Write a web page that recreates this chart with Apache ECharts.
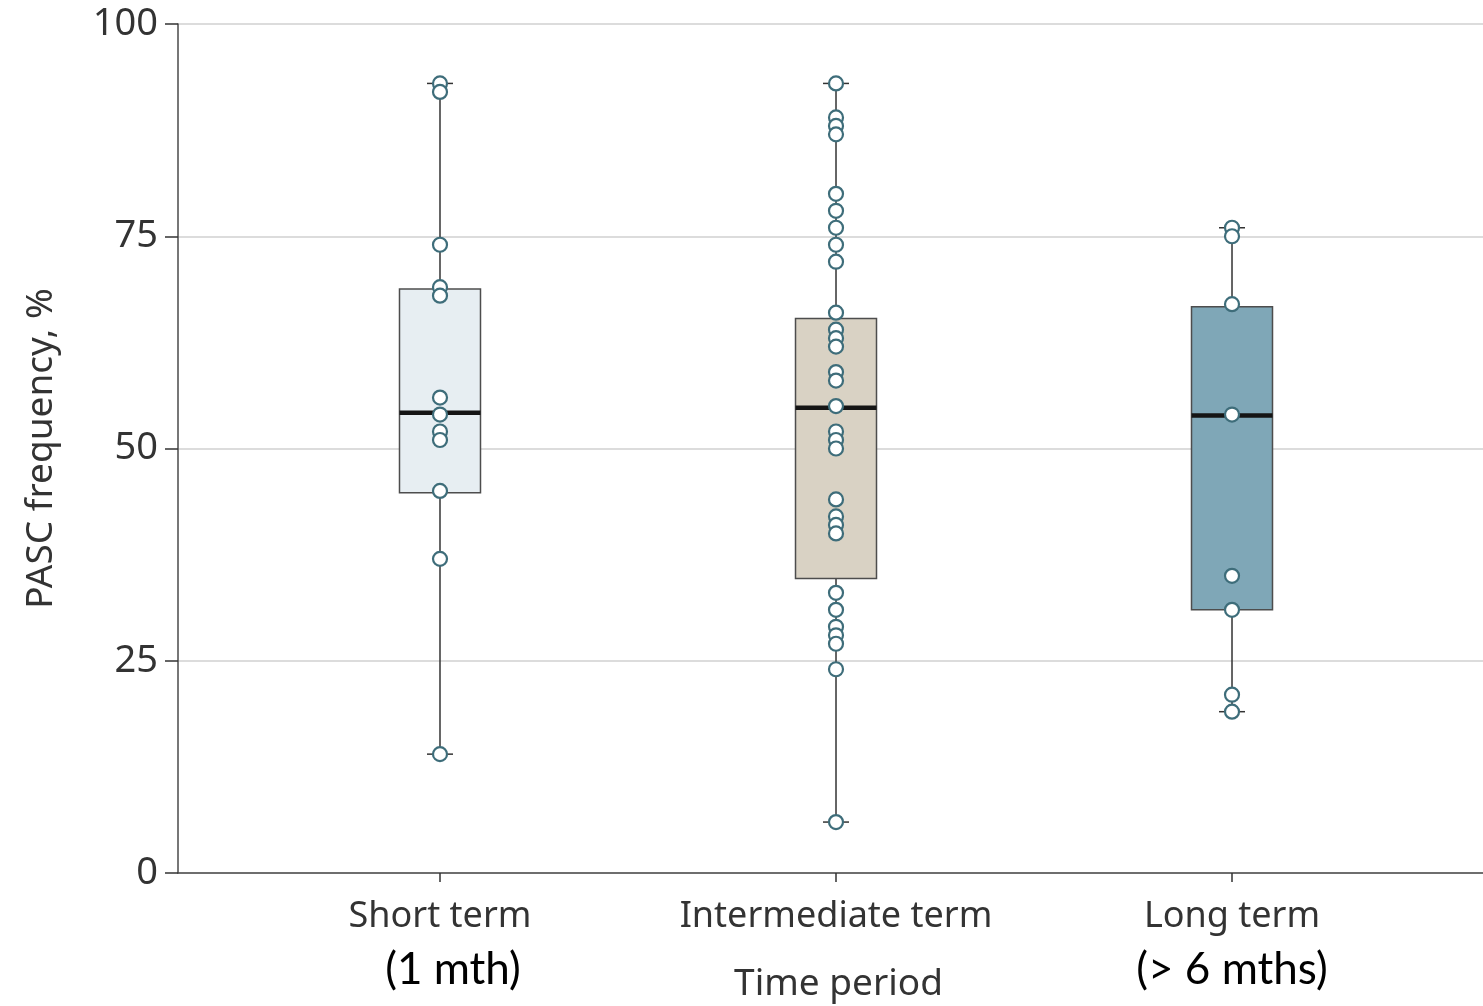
<!DOCTYPE html>
<html>
<head>
<meta charset="utf-8">
<script src="https://cdn.jsdelivr.net/npm/echarts@6/dist/echarts.min.js"></script>
<style>
html,body{margin:0;padding:0;background:#fff;}
#chart{width:1483px;height:1006px;}
</style>
</head>
<body>
<div id="chart"></div>
<script>
// ---- data ----
var categories = ['Short term', 'Intermediate term', 'Long term'];
var subLabels = ['(1 mth)', '', '(> 6 mths)'];
var yTicks = [0, 25, 50, 75, 100];
// box stats: [min, Q1, median, Q3, max]
var shortBox = [14, 44.8, 54.2, 68.8, 93];
var interBox = [6, 34.7, 54.8, 65.3, 93];
var longBox = [19, 31, 53.9, 66.7, 76];
// individual study values
var shortPoints = [93, 92, 74, 69, 68, 56, 54, 52, 51, 45, 37, 14];
var interPoints = [93, 89, 88, 87, 80, 78, 76, 74, 72, 66, 64, 63, 62, 59, 58, 55, 52, 51, 50, 44, 42, 41, 40, 33, 31, 29, 28, 27, 24, 6];
var longPoints = [76, 75, 67, 54, 35, 31, 21, 19];

// ---- styles ----
var boxFills = ['#e7eef2', '#d9d2c4', '#7fa7b7'];
var labelFont = '"Noto Sans", sans-serif';

var boxes = [shortBox, interBox, longBox];
var boxData = boxes.map(function (b, i) { return [i + 1].concat(b); });
var pointSets = [shortPoints, interPoints, longPoints];
var scatterData = [];
pointSets.forEach(function (pts, i) {
  pts.forEach(function (v) { scatterData.push([i + 1, v]); });
});

var chart = echarts.init(document.getElementById('chart'), null, {renderer: 'canvas'});
chart.setOption({
  animation: false,
  backgroundColor: '#fff',
  grid: {left: 178, right: 0, top: 24, bottom: 133, containLabel: false, outerBoundsMode: 'none'},
  xAxis: {
    type: 'value',
    min: 0.3384,
    max: 3.6338,
    splitLine: {show: false},
    axisLine: {show: true, lineStyle: {color: '#4a4a4a', width: 1.5}},
    axisTick: {show: true, customValues: [1, 2, 3], length: 9, lineStyle: {color: '#333', width: 1.5}},
    axisLabel: {
      customValues: [1, 2, 3],
      margin: 20,
      formatter: function (v) {
        var i = Math.round(v) - 1;
        var s = '{a|' + categories[i] + '}';
        if (subLabels[i]) s += '\n{' + (i === 0 ? 'b1' : 'b') + '|' + subLabels[i] + '}';
        return s;
      },
      rich: {
        a: {fontFamily: labelFont, fontSize: 36, color: '#333', lineHeight: 48},
        b: {fontFamily: 'Lato, sans-serif', fontSize: 44, color: '#000', lineHeight: 58},
        b1: {fontFamily: 'Lato, sans-serif', fontSize: 44, color: '#000', lineHeight: 58, padding: [0, 0, 0, 26]}
      }
    },
    name: 'Time period',
    nameLocation: 'middle',
    nameGap: 93,
    nameMoveOverlap: false,
    nameTextStyle: {fontFamily: labelFont, fontSize: 37, color: '#333', verticalAlign: 'top', padding: [0, 0, 0, 16]}
  },
  yAxis: {
    type: 'value',
    min: 0,
    max: 100,
    interval: 25,
    axisLine: {show: true, lineStyle: {color: '#4a4a4a', width: 1.5}},
    axisTick: {show: true, length: 13, lineStyle: {color: '#333', width: 1.5}},
    axisLabel: {fontFamily: labelFont, fontSize: 38, color: '#333', margin: 20},
    splitLine: {show: true, lineStyle: {color: '#dcdcdc', width: 2}},
    name: 'PASC frequency, %',
    nameLocation: 'middle',
    nameGap: 118,
    nameMoveOverlap: false,
    nameTextStyle: {fontFamily: labelFont, fontSize: 37, color: '#333'}
  },
  series: [
    {
      type: 'custom',
      data: boxData,
      encode: {x: 0, y: [1, 2, 3, 4, 5]},
      z: 2,
      renderItem: function (params, api) {
        var x = api.value(0);
        var pMin = api.coord([x, api.value(1)]);
        var pQ1 = api.coord([x, api.value(2)]);
        var pMed = api.coord([x, api.value(3)]);
        var pQ3 = api.coord([x, api.value(4)]);
        var pMax = api.coord([x, api.value(5)]);
        var cx = pMin[0];
        var hw = 40.5, cap = 13;
        var ws = {stroke: '#333', lineWidth: 1.5};
        return {
          type: 'group',
          children: [
            {type: 'line', shape: {x1: cx, y1: pMax[1], x2: cx, y2: pMin[1]}, style: ws},
            {type: 'line', shape: {x1: cx - cap, y1: pMax[1], x2: cx + cap, y2: pMax[1]}, style: ws},
            {type: 'line', shape: {x1: cx - cap, y1: pMin[1], x2: cx + cap, y2: pMin[1]}, style: ws},
            {type: 'rect', shape: {x: cx - hw, y: pQ3[1], width: hw * 2, height: pQ1[1] - pQ3[1]},
              style: {fill: boxFills[params.dataIndex], stroke: '#4d4d4d', lineWidth: 1.5}},
            {type: 'line', shape: {x1: cx - hw, y1: pMed[1], x2: cx + hw, y2: pMed[1]},
              style: {stroke: '#151515', lineWidth: 4.5}}
          ]
        };
      }
    },
    {
      type: 'scatter',
      data: scatterData,
      z: 3,
      symbol: 'circle',
      symbolSize: 14,
      itemStyle: {color: '#ffffff', borderColor: '#3e6d7a', borderWidth: 2.2, opacity: 1}
    }
  ]
});
</script>
</body>
</html>
